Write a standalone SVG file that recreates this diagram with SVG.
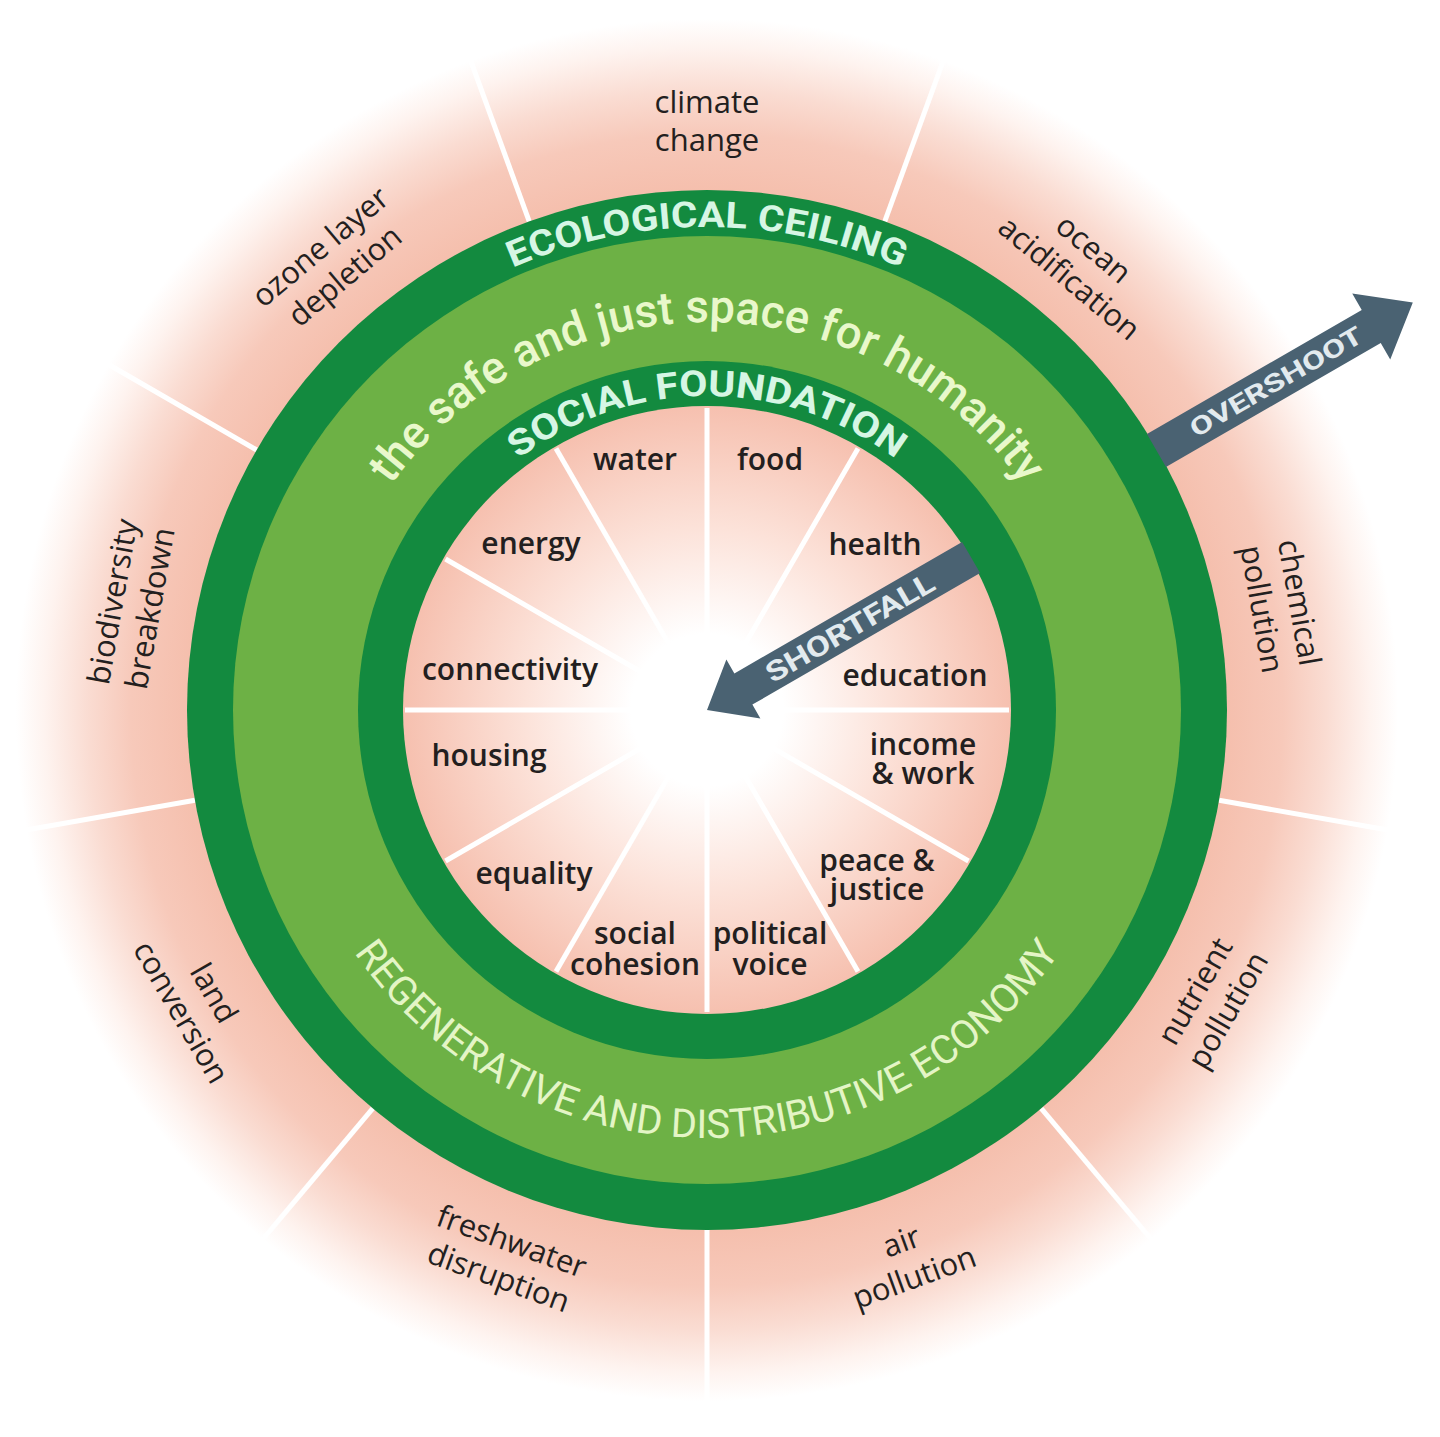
<svg xmlns="http://www.w3.org/2000/svg" width="1440" height="1437" viewBox="0 0 1440 1437">
<defs>
<style>
.lbl{font-family:"Open Sans","DejaVu Sans",sans-serif;font-weight:600;font-size:30px;fill:#231f20;text-anchor:middle}
.olbl{font-family:"Open Sans","DejaVu Sans",sans-serif;font-weight:500;font-size:31px;fill:#231f20;text-anchor:middle}
.sep{stroke:#ffffff;stroke-width:5;stroke-linecap:butt}
.ring-cap{font-family:Roboto,"Liberation Sans",sans-serif;font-weight:700;font-size:36px;fill:#d6f6e4;text-anchor:middle}
.safe{font-family:Roboto,"Liberation Sans",sans-serif;font-weight:500;font-size:46px;fill:#e9f8cb;text-anchor:middle}
.regen{font-family:Roboto,"Liberation Sans",sans-serif;font-weight:400;font-size:40px;fill:#e4f5c6;text-anchor:middle}
.arrow{fill:#4a6272}
.atext{font-family:Roboto,"Liberation Sans",sans-serif;font-weight:700;fill:#e2eaee;text-anchor:middle}
</style>
<radialGradient id="outerG" gradientUnits="userSpaceOnUse" cx="707" cy="710" r="720">
<stop offset="0" stop-color="#f5bfad"/>
<stop offset="0.722" stop-color="#f5bfad"/>
<stop offset="0.80" stop-color="#f7c9ba"/>
<stop offset="0.86" stop-color="#fadcd2"/>
<stop offset="0.92" stop-color="#fef3ef"/>
<stop offset="0.96" stop-color="#ffffff"/>
<stop offset="1" stop-color="#ffffff"/>
</radialGradient>
<radialGradient id="innerG" gradientUnits="userSpaceOnUse" cx="707" cy="710" r="304">
<stop offset="0" stop-color="#ffffff"/>
<stop offset="0.25" stop-color="#ffffff"/>
<stop offset="0.6" stop-color="#fce2d9"/>
<stop offset="1" stop-color="#f6c0af"/>
</radialGradient>
<path id="pEco" d="M 224 710 A 483 483 0 0 1 1190 710"/>
<path id="pSafe" d="M 319 710 A 388 388 0 0 1 1095 710"/>
<path id="pSoc" d="M 393 710 A 314 314 0 0 1 1021 710"/>
<path id="pReg" d="M 279 710 A 428 428 0 0 0 1135 710"/>
</defs>
<rect width="1440" height="1437" fill="#ffffff"/>
<g id="planetary-boundaries-band">
<circle cx="707" cy="710" r="720" fill="url(#outerG)"/>
<line class="sep" x1="884.8" y1="221.4" x2="946.4" y2="52.2"/>
<line class="sep" x1="1157.3" y1="450" x2="1313.2" y2="360"/>
<line class="sep" x1="1219.1" y1="800.3" x2="1396.4" y2="831.5"/>
<line class="sep" x1="1041.2" y1="1108.3" x2="1157" y2="1246.2"/>
<line class="sep" x1="707" y1="1230" x2="707" y2="1410"/>
<line class="sep" x1="372.8" y1="1108.3" x2="257" y2="1246.2"/>
<line class="sep" x1="194.9" y1="800.3" x2="17.6" y2="831.5"/>
<line class="sep" x1="256.7" y1="450" x2="100.8" y2="360"/>
<line class="sep" x1="529.2" y1="221.4" x2="467.6" y2="52.2"/>
</g>
<g id="ecological-ceiling">
<circle cx="707" cy="710" r="520" fill="#138a3f"/>
<text class="ring-cap"><textPath href="#pEco" startOffset="50%" textLength="400" lengthAdjust="spacingAndGlyphs">ECOLOGICAL CEILING</textPath></text>
</g>
<g id="safe-and-just-space">
<circle cx="707" cy="710" r="474" fill="#6db145"/>
<text class="safe"><textPath href="#pSafe" startOffset="50%" textLength="738" lengthAdjust="spacingAndGlyphs">the safe and just space for humanity</textPath></text>
<text class="regen"><textPath href="#pReg" startOffset="50%" textLength="829" lengthAdjust="spacingAndGlyphs">REGENERATIVE AND DISTRIBUTIVE ECONOMY</textPath></text>
</g>
<g id="social-foundation">
<circle cx="707" cy="710" r="349" fill="#138a3f"/>
<text class="ring-cap"><textPath href="#pSoc" startOffset="50%" textLength="405" lengthAdjust="spacingAndGlyphs">SOCIAL FOUNDATION</textPath></text>
</g>
<g id="shortfall-core">
<circle cx="707" cy="710" r="304" fill="url(#innerG)"/>
<line class="sep" x1="707" y1="408" x2="707" y2="640"/>
<line class="sep" x1="858" y1="448.5" x2="742" y2="649.4"/>
<line class="sep" x1="968.5" y1="559" x2="767.6" y2="675"/>
<line class="sep" x1="1009" y1="710" x2="777" y2="710"/>
<line class="sep" x1="968.5" y1="861" x2="767.6" y2="745"/>
<line class="sep" x1="858" y1="971.5" x2="742" y2="770.6"/>
<line class="sep" x1="707" y1="1012" x2="707" y2="780"/>
<line class="sep" x1="556" y1="971.5" x2="672" y2="770.6"/>
<line class="sep" x1="445.5" y1="861" x2="646.4" y2="745"/>
<line class="sep" x1="405" y1="710" x2="637" y2="710"/>
<line class="sep" x1="445.5" y1="559" x2="646.4" y2="675"/>
<line class="sep" x1="556" y1="448.5" x2="672" y2="649.4"/>
</g>
<g id="social-labels">
<g id="water"><text class="lbl" x="635" y="470">water</text></g>
<g id="food"><text class="lbl" x="770" y="470">food</text></g>
<g id="health"><text class="lbl" x="875" y="555">health</text></g>
<g id="education"><text class="lbl" x="915" y="686">education</text></g>
<g id="income-work"><text class="lbl"><tspan x="923" y="755">income</tspan><tspan x="923" y="784">&amp; work</tspan></text></g>
<g id="peace-justice"><text class="lbl"><tspan x="877" y="871">peace &amp;</tspan><tspan x="877" y="900">justice</tspan></text></g>
<g id="political-voice"><text class="lbl"><tspan x="770" y="944">political</tspan><tspan x="770" y="975">voice</tspan></text></g>
<g id="social-cohesion"><text class="lbl"><tspan x="635" y="944">social</tspan><tspan x="635" y="975">cohesion</tspan></text></g>
<g id="equality"><text class="lbl" x="534" y="884">equality</text></g>
<g id="housing"><text class="lbl" x="489" y="766">housing</text></g>
<g id="connectivity"><text class="lbl" x="510" y="680">connectivity</text></g>
<g id="energy"><text class="lbl" x="531" y="554">energy</text></g>
</g>
<g id="planetary-labels">
<g id="climate-change" transform="translate(707,122)"><text class="olbl"><tspan x="0" y="-9">climate</tspan><tspan x="0" y="29">change</tspan></text></g>
<g id="ocean-acidification" transform="translate(1081,264) rotate(40)"><text class="olbl"><tspan x="0" y="-9">ocean</tspan><tspan x="0" y="29">acidification</tspan></text></g>
<g id="chemical-pollution" transform="translate(1280,606) rotate(80)"><text class="olbl"><tspan x="0" y="-9">chemical</tspan><tspan x="0" y="29">pollution</tspan></text></g>
<g id="nutrient-pollution" transform="translate(1212,1001) rotate(-60)"><text class="olbl"><tspan x="0" y="-9">nutrient</tspan><tspan x="0" y="29">pollution</tspan></text></g>
<g id="air-pollution" transform="translate(908,1260) rotate(-20)"><text class="olbl"><tspan x="0" y="-9">air</tspan><tspan x="0" y="29">pollution</tspan></text></g>
<g id="freshwater-disruption" transform="translate(505,1260) rotate(20)"><text class="olbl"><tspan x="0" y="-9">freshwater</tspan><tspan x="0" y="29">disruption</tspan></text></g>
<g id="land-conversion" transform="translate(197,1003) rotate(60)"><text class="olbl"><tspan x="0" y="-9">land</tspan><tspan x="0" y="29">conversion</tspan></text></g>
<g id="biodiversity-breakdown" transform="translate(132,605) rotate(-80)"><text class="olbl"><tspan x="0" y="-9">biodiversity</tspan><tspan x="0" y="29">breakdown</tspan></text></g>
<g id="ozone-layer-depletion" transform="translate(333,262) rotate(-40)"><text class="olbl"><tspan x="0" y="-9">ozone layer</tspan><tspan x="0" y="29">depletion</tspan></text></g>
</g>
<g id="connectors">
<g id="overshoot" transform="translate(707,710) rotate(-30)">
<polygon class="arrow" points="519,-19 767,-19 767,-38 815,0 767,38 767,19 519,19"/>
<text class="atext" x="657" y="9" font-size="25" textLength="195" lengthAdjust="spacingAndGlyphs">OVERSHOOT</text>
</g>
<g id="shortfall" transform="translate(707,710) rotate(-30)">
<polygon class="arrow" points="305,-18 42,-18 42,-34 0,0 42,34 42,18 305,18"/>
<text class="atext" x="165" y="10" font-size="28" textLength="190" lengthAdjust="spacingAndGlyphs">SHORTFALL</text>
</g>
</g>
</svg>
